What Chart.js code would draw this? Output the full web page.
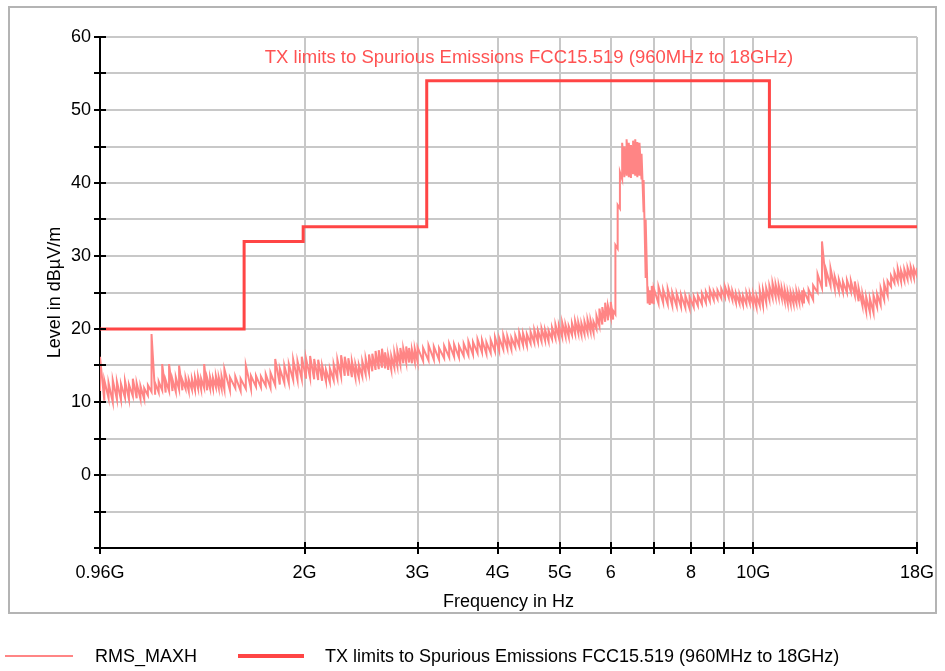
<!DOCTYPE html>
<html><head><meta charset="utf-8">
<script src="https://cdn.jsdelivr.net/npm/chart.js@4.4.0/dist/chart.umd.min.js"></script>
<style>
html,body{margin:0;padding:0;background:#fff;}
#wrap{position:relative;width:945px;height:671px;overflow:hidden;}
canvas{position:absolute;left:0;top:0;}
.lg{position:absolute;font-family:"Liberation Sans",Arial,sans-serif;font-size:18px;color:#000;white-space:nowrap;line-height:20px;}
.sw{position:absolute;}
</style></head><body>
<div id="wrap"><canvas id="c" width="945" height="671"></canvas></div>
<script>
// ---- data ----
// Frequency grid (GHz) of the RMS_MAXH trace, with the lowest and highest level seen at each step
const traceFreqGHz = [
  0.96,0.975,0.99,1.005,1.02,1.035,1.05,1.065,1.08,1.095,
  1.11,1.125,1.14,1.155,1.17,1.185,1.2,1.215,1.23,1.245,
  1.26,1.275,1.29,1.305,1.32,1.335,1.35,1.365,1.38,1.395,
  1.41,1.425,1.44,1.455,1.47,1.485,
  1.5,1.53,1.56,1.59,1.62,1.65,1.68,1.71,1.74,1.77,
  1.8,1.83,1.86,1.89,1.92,1.95,1.98,2.01,2.04,2.07,
  2.1,2.13,2.16,2.19,2.22,2.25,2.28,2.31,2.34,2.37,
  2.4,2.43,2.46,2.49,2.52,2.55,2.58,2.61,2.64,2.67,
  2.7,2.73,2.76,2.79,2.82,2.85,2.88,2.91,2.94,2.97,
  3,3.06,3.12,3.18,3.24,3.3,3.36,3.42,3.48,3.54,
  3.6,3.66,3.72,3.78,3.84,3.9,3.96,4.02,4.08,4.14,
  4.2,4.26,4.32,4.38,4.44,4.5,4.56,4.62,4.68,4.74,
  4.8,4.86,4.92,4.98,5.04,5.1,5.16,5.22,5.28,5.34,
  5.4,5.46,5.52,5.58,5.64,5.7,5.76,5.82,5.88,5.94,
  6,6.05,6.1,6.15,6.2,6.25,6.3,6.35,6.4,6.45,
  6.5,6.55,6.6,6.65,6.7,6.75,6.8,6.85,6.9,6.95,
  7,7.12,7.24,7.36,7.48,7.6,7.72,7.84,7.96,8.08,
  8.2,8.32,8.44,8.56,8.68,8.8,8.92,9.04,9.16,9.28,
  9.4,9.52,9.64,9.76,9.88,10,10.12,10.24,10.36,10.48,
  10.6,10.72,10.84,10.96,11.08,11.2,11.32,11.44,11.56,11.68,
  11.8,11.92,
  12,12.2,12.4,12.6,12.8,13,13.2,13.4,13.6,13.8,
  14,14.2,14.4,14.6,14.8,15,15.2,15.4,15.6,15.8,
  16,16.2,16.4,16.6,16.8,17,17.2,17.4,17.6,17.8,
  18
];
const traceMax = [
  16.2,13,12.6,13,12.8,12.5,12.9,12.4,13.2,12.6,
  12.2,11.9,12.3,19.3,12.6,12.8,15.2,13,15.2,13.1,
  13.4,15,13,13.3,13.1,13.2,13.4,13.5,13.2,15.2,
  13.3,13.4,13.3,13.6,13.4,13.5,
  14.5,13.4,13.5,13.2,15,13.6,13.6,13.5,13.8,14,
  15.9,14.6,15,15.2,15.8,15.6,16.2,16,16.3,15.9,
  15.8,15,14.4,14.6,15.2,15.8,16.4,16.2,16,15.6,
  15.2,15.1,15.6,16,16.5,16.6,17,17.1,17.3,16.8,
  16.4,16.3,16.8,17,17.4,17.3,17.6,17.4,17.2,17.3,
  17.5,17.4,17.8,17.6,17.4,17.7,18,17.9,17.7,18,
  18.3,18.2,18.6,18.5,18.2,18.5,18.9,18.8,19.2,19,
  18.8,19.1,19.5,19.4,19.3,19.6,19.9,19.8,20.1,19.9,
  19.8,20.2,20.6,20.5,20.9,20.6,20.4,20.8,21.1,20.9,
  20.8,21,21.3,21.2,21,21.8,22.8,23,23.6,23.2,
  23.7,22.5,31.5,37,41.5,45.5,45,46,45.5,45.2,
  45.8,46,45.6,45.5,44,40.4,35,25.8,25.3,25.9,
  25.6,25.8,25.4,25.5,25,24.9,24.7,24.6,24.4,24.5,
  24.6,24.9,25.1,25.4,25.2,25.3,25.5,25.8,25.6,25.2,
  24.9,24.8,24.6,25,24.9,24.8,24.6,25.3,25.4,25.6,
  25.9,26.3,26.1,26,25.6,25.4,25.1,25,24.9,25.2,
  25,25.3,
  25.2,25.4,26,27.5,32,28,28.3,27.2,26.8,26.5,
  26.7,26.6,26.5,25.6,24.8,24.4,24.2,24.6,24.8,25.6,
  26.2,26.6,27.3,27.8,28.3,28,28.2,28.4,28.5,28.3,
  28.4
];
const traceMin = [
  11.5,10.2,10.5,10,10.4,10.3,10.6,10.4,10.8,10.5,
  10.4,10.4,10.9,11.4,11,11.3,11.6,11.3,11.5,11.5,
  11.4,11.7,11.6,11.8,11.5,11.7,11.6,11.8,11.7,11.9,
  11.6,11.8,11.8,12,11.9,11.8,
  11.7,11.6,11.9,11.5,11.8,11.8,12.1,12,12.2,11.9,
  12.3,12.4,12.6,12.6,13,13,13.1,13.2,13.3,13.1,
  13,12.9,12.8,12.7,13,13.2,13.5,13.6,13.6,13.4,
  13.3,13.3,13.5,13.8,14,14.2,14.4,14.5,14.7,14.6,
  14.4,14.4,14.7,14.9,15.1,15.3,15.4,15.4,15.3,15.5,
  15.5,15.6,15.7,15.8,15.8,16,16.1,16.2,16.1,16.3,
  16.4,16.5,16.7,16.8,16.6,16.7,16.9,17,17.2,17.3,
  17.2,17.5,17.6,17.8,17.7,18,18.1,18.2,18.3,18.4,
  18.3,18.6,18.7,18.8,18.9,19,18.9,19.2,19.3,19.4,
  19.2,19.3,19.5,19.6,19.5,20,20.4,20.6,21,21.2,
  21.6,21.3,22,31,36.5,40.5,40.8,41,40.8,40.7,
  41.2,41,40.8,41,40.5,36,27,23.5,23.3,23.5,
  23.4,23.5,23.6,23.4,23.2,23.1,23,22.9,22.8,23,
  23.2,23.4,23.6,23.8,24,24.1,24.2,24.3,24.3,24,
  23.6,23.5,23.3,23.4,23.5,23.3,23,23.2,23.2,23.6,
  24,24.3,24.4,24.3,24.2,23.8,23.5,23.4,23.4,23.5,
  23.6,23.7,
  23.5,23.8,24,25,25.6,25.8,25.9,25.5,25.2,25,
  25,25.1,24.6,23.8,23.2,22.4,22.3,22.2,23,23.3,
  24,24.6,25.8,26.3,26.5,26.5,26.6,26.8,27,27,
  27.2
];
const limitEdgesGHz = [0.96, 1.61, 1.99, 3.1, 10.6, 18];
const limitLevel = [20, 32, 34, 54, 34];
const xTickValues = [0.96, 2, 3, 4, 5, 6, 7, 8, 9, 10, 18];
const xTickLabels = ['0.96G', '2G', '3G', '4G', '5G', '6', '', '8', '', '10G', '18G'];
const yTickValues = [-10, -5, 0, 5, 10, 15, 20, 25, 30, 35, 40, 45, 50, 55, 60];
const yTickLabels = ['', '', '0', '', '10', '', '20', '', '30', '', '40', '', '50', '', '60'];
const seriesNames = ['RMS_MAXH', 'TX limits to Spurious Emissions FCC15.519 (960MHz to 18GHz)'];
const chartTitle = 'TX limits to Spurious Emissions FCC15.519 (960MHz to 18GHz)';
const xTitle = 'Frequency in Hz';
const yTitle = 'Level in dB\u00B5V/m';

// ---- styling ----
const FONT = '"Liberation Sans", Arial, sans-serif';
const TRACE_COLOR = '#ff8585';
const LIMIT_COLOR = '#ff4545';

// trace drawn as the analyzer does: each frequency step sweeps from its min to its max
const tracePoints = [];
traceFreqGHz.forEach((f, i) => {
  tracePoints.push({x: f, y: traceMin[i]}, {x: f, y: traceMax[i]});
});
const limitPoints = [];
limitLevel.forEach((lv, i) => {
  limitPoints.push({x: limitEdgesGHz[i], y: lv});
  limitPoints.push({x: limitEdgesGHz[i + 1], y: lv});
});

const decorPlugin = {
  id: 'decor',
  beforeDraw(chart) {
    const ctx = chart.ctx;
    ctx.save();
    ctx.fillStyle = '#fff';
    ctx.fillRect(0, 0, chart.width, chart.height);
    ctx.strokeStyle = '#b4b4b4';
    ctx.lineWidth = 2;
    ctx.strokeRect(9, 7, 927, 606);
    ctx.restore();
  },
  afterDraw(chart) {
    const {ctx, chartArea: a, scales: {x, y}} = chart;
    ctx.save();
    ctx.strokeStyle = '#000';
    ctx.lineWidth = 2;
    ctx.beginPath();
    x.ticks.forEach(t => {
      const px = Math.round(x.getPixelForValue(t.value));
      ctx.moveTo(px, a.bottom); ctx.lineTo(px, a.bottom - 6);
    });
    y.ticks.forEach(t => {
      const py = Math.round(y.getPixelForValue(t.value));
      ctx.moveTo(a.left, py); ctx.lineTo(a.left + 6, py);
    });
    ctx.stroke();
    ctx.fillStyle = '#ff5252';
    ctx.font = '18.5px ' + FONT;
    ctx.textAlign = 'center';
    ctx.textBaseline = 'middle';
    ctx.fillText(chartTitle, 529, 58);
    ctx.restore();
  }
};

new Chart(document.getElementById('c'), {
  type: 'line',
  data: {
    datasets: [
      {label: seriesNames[0], data: tracePoints, borderColor: TRACE_COLOR, borderWidth: 2, pointRadius: 0, tension: 0},
      {label: seriesNames[1], data: limitPoints, borderColor: LIMIT_COLOR, borderWidth: 3, pointRadius: 0, tension: 0}
    ]
  },
  options: {
    responsive: false,
    animation: false,
    devicePixelRatio: 1,
    layout: {padding: {left: 10, right: 28, top: 37, bottom: 58}},
    plugins: {legend: {display: false}, tooltip: {enabled: false}},
    scales: {
      x: {
        type: 'logarithmic', min: 0.96, max: 18,
        afterBuildTicks: s => { s.ticks = xTickValues.map(v => ({value: v})); },
        afterFit: s => { s.height = 65; },
        ticks: {autoSkip: false, maxRotation: 0, padding: 8, color: '#000', font: {family: FONT, size: 18},
          callback: (v, i) => xTickLabels[i]},
        grid: {color: '#c8c8c8', lineWidth: 2, tickColor: '#000', tickWidth: 2, tickLength: 6},
        border: {display: true, color: '#000', width: 2},
        title: {display: true, text: xTitle, color: '#000', font: {family: FONT, size: 18}, padding: {top: 0, bottom: 0}}
      },
      y: {
        type: 'linear', min: -10, max: 60,
        afterBuildTicks: s => { s.ticks = yTickValues.map(v => ({value: v})); },
        afterFit: s => { s.width = 90; },
        ticks: {autoSkip: false, padding: 3, color: '#000', font: {family: FONT, size: 18},
          callback: (v, i) => yTickLabels[i]},
        grid: {color: '#c8c8c8', lineWidth: 2, tickColor: '#000', tickWidth: 2, tickLength: 6},
        border: {display: true, color: '#000', width: 2},
        title: {display: true, text: yTitle, color: '#000', font: {family: FONT, size: 18}, padding: {top: 34, bottom: 0}}
      }
    }
  },
  plugins: [decorPlugin]
});

// ---- legend (HTML text) ----
const wrap = document.getElementById('wrap');
const legendItems = [
  {name: seriesNames[0], color: TRACE_COLOR, h: 2, sx: 5, sw: 68, tx: 95},
  {name: seriesNames[1], color: LIMIT_COLOR, h: 4, sx: 238, sw: 66, tx: 325}
];
legendItems.forEach(it => {
  const sw = document.createElement('div');
  sw.className = 'sw';
  sw.style.cssText = `left:${it.sx}px;top:${656 - it.h / 2}px;width:${it.sw}px;height:${it.h}px;background:${it.color}`;
  wrap.appendChild(sw);
  const t = document.createElement('div');
  t.className = 'lg';
  t.style.cssText = `left:${it.tx}px;top:646px`;
  t.textContent = it.name;
  wrap.appendChild(t);
});
</script>
</body></html>
